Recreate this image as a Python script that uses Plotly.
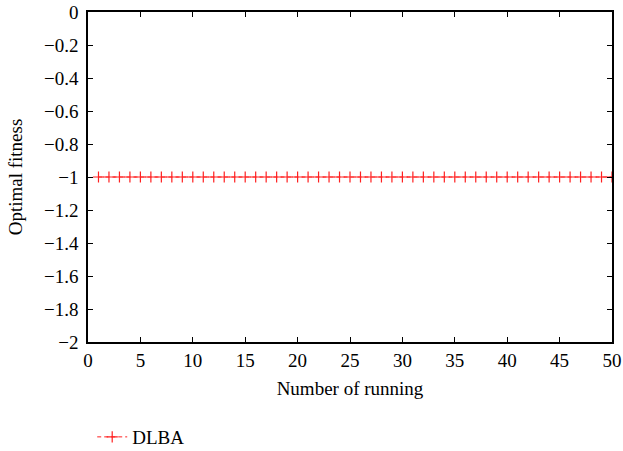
import plotly.graph_objects as go

# Optimal fitness of DLBA over 50 independent runs
runs = list(range(1, 51))
fitness = [-1.0] * 50

x_ticks = [0, 5, 10, 15, 20, 25, 30, 35, 40, 45, 50]
y_ticks = [0, -0.2, -0.4, -0.6, -0.8, -1, -1.2, -1.4, -1.6, -1.8, -2]

FONT = "Liberation Serif"
FS = 19

fig = go.Figure()
fig.add_trace(go.Scatter(
    x=runs, y=fitness, name="DLBA", mode="lines+markers",
    line=dict(color="#ff2020", width=1, dash="4px,3px"),
    marker=dict(symbol="cross-thin", size=8, line=dict(color="#ff2020", width=1.2)),
))

axis_common = dict(
    showgrid=False, zeroline=False, showline=True, linecolor="black", linewidth=1.5,
    mirror="ticks", ticks="inside", ticklen=5, tickwidth=1, tickcolor="black",
    tickfont=dict(family=FONT, size=FS, color="black"), automargin=False,
)

fig.update_xaxes(
    range=[0, 50], tickvals=x_ticks, ticktext=[str(v) for v in x_ticks],
    title=dict(text="Number of running", font=dict(family=FONT, size=FS, color="black"), standoff=12),
    **axis_common,
)
fig.update_yaxes(
    range=[-2, 0], tickvals=y_ticks,
    ticktext=[("\u2212" + f"{abs(v):g}") if v < 0 else "0" for v in y_ticks],
    ticklabelstandoff=4,
    title=dict(text="Optimal fitness", font=dict(family=FONT, size=FS, color="black"), standoff=16),
    **axis_common,
)

fig.update_layout(
    width=623, height=451,
    margin=dict(l=88, r=11, t=12, b=109, autoexpand=False),
    paper_bgcolor="white", plot_bgcolor="white",
    showlegend=True,
    legend=dict(orientation="h", xref="container", x=0.148, xanchor="left",
                yref="container", y=0.031, yanchor="middle",
                font=dict(family=FONT, size=FS, color="black"), bgcolor="rgba(0,0,0,0)",
                borderwidth=0),
)

fig.write_html("out.html")
